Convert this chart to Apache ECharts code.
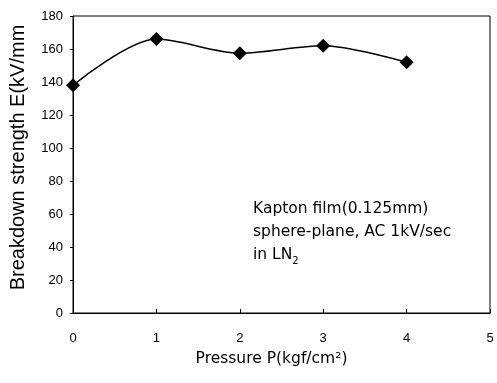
<!DOCTYPE html>
<html>
<head>
<meta charset="utf-8">
<script src="https://cdn.jsdelivr.net/npm/echarts@6/dist/echarts.min.js"></script>
<style>
  html, body { margin: 0; padding: 0; background: #fff; }
  #chart { width: 497px; height: 383px; }
</style>
</head>
<body>
<div id="chart"></div>
<script>
// 压力 (kgf/cm2) 与击穿场强 (kV/mm)
const pressure = [0, 1, 2, 3, 4]
const strength = [138, 166, 157.5, 162, 152]
const yTicks = [0, 20, 40, 60, 80, 100, 120, 140, 160, 180]

const chart = echarts.init(document.getElementById('chart'))

const option = {
  backgroundColor: '#fff',
  textStyle: { fontFamily: 'Liberation Sans, Arial, sans-serif', color: '#000' },
  grid: {
    left: 73,
    right: 7,
    top: 16,
    bottom: 70,
    show: true,
    borderColor: '#000',
    borderWidth: 1
  },
  xAxis: {
    type: 'value',
    min: 0,
    max: 5,
    interval: 1,
    name: 'Pressure P(kgf/cm²)',
    nameLocation: 'middle',
    nameGap: 38,
    nameTextStyle: { fontSize: 15.5, color: '#000', fontFamily: 'DejaVu Sans', padding: [0, 20, 0, 0] },
    axisLine: { show: true, lineStyle: { color: '#000', width: 1 } },
    axisTick: { show: true, inside: true, length: 4, lineStyle: { color: '#000' } },
    axisLabel: { fontSize: 13, color: '#000', margin: 19 },
    splitLine: { show: false }
  },
  yAxis: {
    type: 'value',
    min: yTicks[0],
    max: yTicks[yTicks.length - 1],
    interval: 20,
    name: 'Breakdown strength E(kV/mm',
    nameLocation: 'middle',
    nameGap: 45,
    nameTextStyle: { fontSize: 20, color: '#000', fontFamily: 'Liberation Sans', padding: [0, 0, 0, 14] },
    axisLine: { show: true, lineStyle: { color: '#000', width: 1 } },
    axisTick: { show: true, length: 3, lineStyle: { color: '#000' } },
    axisLabel: { fontSize: 13, color: '#000', margin: 10 },
    splitLine: { show: false }
  },
  series: [{
    type: 'line',
    data: pressure.map((p, i) => [p, strength[i]]),
    smooth: 0.3,
    symbol: 'diamond',
    symbolSize: 14,
    itemStyle: { color: '#000' },
    lineStyle: { color: '#000', width: 1.5 },
    clip: false
  }],
  graphic: [{
    type: 'text',
    left: 253,
    top: 197,
    style: {
      text: 'Kapton film(0.125mm)\nsphere-plane, AC 1kV/sec\nin LN{sub|2}',
      font: '15.5px DejaVu Sans, sans-serif',
      fill: '#000',
      lineHeight: 23,
      rich: {
        sub: { fontSize: 10, fontFamily: 'DejaVu Sans', verticalAlign: 'bottom', padding: [6, 0, 0, 0] }
      }
    }
  }]
}

chart.setOption(option)
</script>
</body>
</html>
